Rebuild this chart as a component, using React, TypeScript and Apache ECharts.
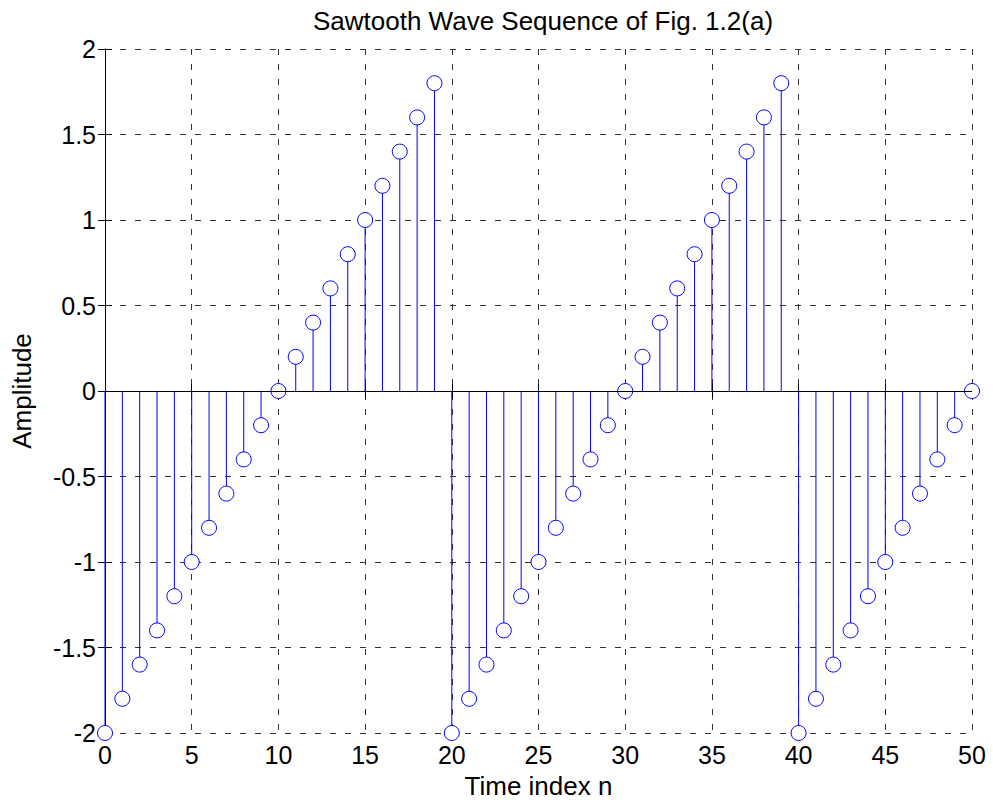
import React, { useEffect, useRef } from "react";
import * as echarts from "echarts";

// Sawtooth sequence x[n], n = 0..50
const timeIndex = [
  0, 1, 2, 3, 4, 5, 6, 7, 8, 9,
  10, 11, 12, 13, 14, 15, 16, 17, 18, 19,
  20, 21, 22, 23, 24, 25, 26, 27, 28, 29,
  30, 31, 32, 33, 34, 35, 36, 37, 38, 39,
  40, 41, 42, 43, 44, 45, 46, 47, 48, 49,
  50,
];

const amplitude = [
  -2, -1.8, -1.6, -1.4, -1.2, -1, -0.8, -0.6, -0.4, -0.2,
  0, 0.2, 0.4, 0.6, 0.8, 1, 1.2, 1.4, 1.6, 1.8,
  -2, -1.8, -1.6, -1.4, -1.2, -1, -0.8, -0.6, -0.4, -0.2,
  0, 0.2, 0.4, 0.6, 0.8, 1, 1.2, 1.4, 1.6, 1.8,
  -2, -1.8, -1.6, -1.4, -1.2, -1, -0.8, -0.6, -0.4, -0.2,
  0,
];

const titleText = "Sawtooth Wave Sequence of Fig. 1.2(a)";
const xName = "Time index n";
const yName = "Amplitude";

const FONT = "'Liberation Sans', Arial, Helvetica, sans-serif";
const STEM = "#0000ff";

export default function App() {
  const ref = useRef<HTMLDivElement>(null);

  useEffect(() => {
    if (!ref.current) return;
    const chart = echarts.init(ref.current, undefined, { renderer: "svg" });
    const points = timeIndex.map((n, i) => [n, amplitude[i]]);

    const gridLine = {
      show: true,
      lineStyle: { color: "#333", type: [6, 9] as any, width: 1 },
    };
    const boxLine = { show: true, lineStyle: { color: "#000", width: 1 } };
    const innerTick = { show: true, inside: true, length: 7, lineStyle: { color: "#000" } };

    chart.setOption({
      animation: false,
      backgroundColor: "#fff",
      title: {
        text: titleText,
        left: 538,
        top: 3,
        textAlign: "center",
        textStyle: { fontFamily: FONT, fontSize: 26, fontWeight: "normal", color: "#000" },
      },
      grid: { left: 105, right: 21, top: 49, bottom: 72, containLabel: false },
      xAxis: [
        {
          type: "value",
          min: 0,
          max: 50,
          interval: 5,
          position: "bottom",
          name: xName,
          nameLocation: "middle",
          nameGap: 40,
          nameTextStyle: { fontFamily: FONT, fontSize: 26, color: "#000" },
          axisLine: boxLine,
          axisTick: innerTick,
          axisLabel: { margin: 9, fontFamily: FONT, fontSize: 25, color: "#000" },
          splitLine: gridLine,
        },
        {
          type: "value",
          min: 0,
          max: 50,
          interval: 5,
          position: "top",
          axisLine: boxLine,
          axisTick: innerTick,
          axisLabel: { show: false },
          splitLine: { show: false },
        },
      ],
      yAxis: [
        {
          type: "value",
          min: -2,
          max: 2,
          interval: 0.5,
          position: "left",
          name: yName,
          nameLocation: "middle",
          nameRotate: 90,
          nameGap: 70,
          nameTextStyle: { fontFamily: FONT, fontSize: 26, color: "#000" },
          axisLine: boxLine,
          axisTick: innerTick,
          axisLabel: { margin: 9, fontFamily: FONT, fontSize: 25, color: "#000" },
          splitLine: gridLine,
        },
        {
          type: "value",
          min: -2,
          max: 2,
          interval: 0.5,
          position: "right",
          axisLine: boxLine,
          axisTick: innerTick,
          axisLabel: { show: false },
          splitLine: { show: false },
        },
      ],
      series: [
        {
          // stems from the baseline to each sample
          type: "custom",
          xAxisIndex: 0,
          yAxisIndex: 0,
          silent: true,
          data: points,
          renderItem: (_params: any, api: any) => {
            const n = api.value(0);
            const v = api.value(1);
            const p0 = api.coord([n, 0]);
            const p1 = api.coord([n, v]);
            return {
              type: "line",
              shape: { x1: p0[0], y1: p0[1], x2: p1[0], y2: p1[1] },
              style: { stroke: STEM, lineWidth: 1 },
            };
          },
          markLine: {
            silent: true,
            symbol: "none",
            label: { show: false },
            lineStyle: { color: "#000", type: "solid", width: 1 },
            data: [{ yAxis: 0 }],
          },
          z: 3,
        },
        {
          // open circle markers at the sample values
          type: "scatter",
          xAxisIndex: 0,
          yAxisIndex: 0,
          silent: true,
          data: points,
          symbol: "circle",
          symbolSize: 15,
          itemStyle: { color: "#fff", borderColor: STEM, borderWidth: 1, opacity: 1 },
          z: 4,
        },
      ],
    });

    return () => chart.dispose();
  }, []);

  return (
    <div
      ref={ref}
      style={{ position: "fixed", left: 0, top: 0, width: 993, height: 805, background: "#fff" }}
    />
  );
}
